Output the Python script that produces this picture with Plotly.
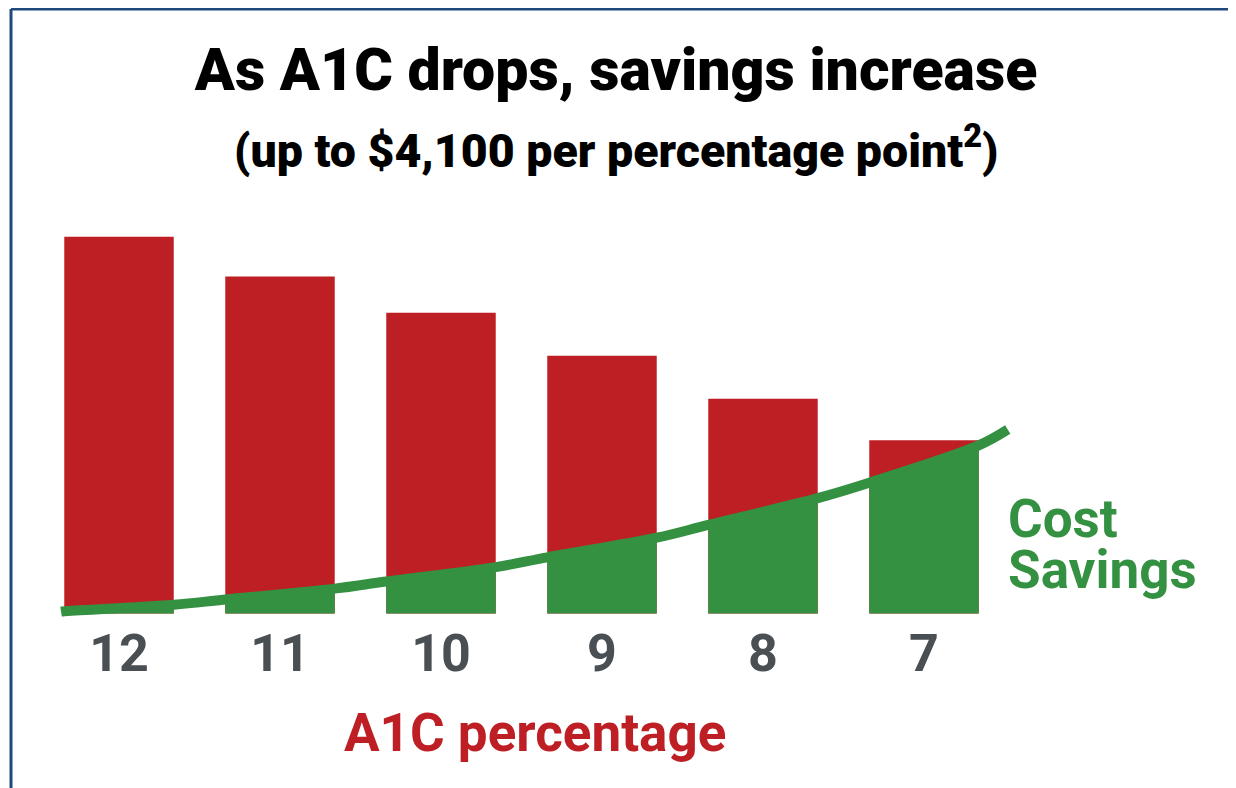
import numpy as np
import plotly.graph_objects as go

# ---- data ----
a1c_values = [12, 11, 10, 9, 8, 7]
tick_labels = ["12", "11", "10", "9", "8", "7"]
total_cost_index = [100, 89.4, 79.8, 68.4, 57.0, 46.0]          # bar heights (relative cost, A1C 12 = 100)
curve_a1c = [12.36, 12.34, 11.66, 11.34, 10.66, 10.34, 9.66, 9.34, 8.66, 8.34, 7.66, 7.34, 6.66, 6.48]
curve_savings = [0.5, 0.6, 2.3, 3.7, 6.6, 8.5, 12.3, 14.9, 20.1, 23.5, 30.6, 34.7, 44.6, 48.8]

title_text = "As A1C drops, savings increase"
subtitle_text = "(up to $4,100 per percentage point<sup>2</sup>)"
axis_title = "A1C percentage"
curve_label = ["Cost", "Savings"]

RED = "#BE1F24"
GREEN = "#359142"
GRAY = "#4A4F54"
BORDER = "#1E4A7B"
BAR_W = 0.68

# page has an 8px body margin: figure is 1228x780 and starts at page (8, 8)
W, H = 1228, 780
ML, MR, MT, MB = 0, 166, 191, 167
PW, PH = W - ML - MR, H - MT - MB


def py(page_y):  # page pixel y -> paper y
    return (H - MB - (page_y - 8)) / PH


def px(page_x):  # page pixel x -> paper x
    return (page_x - 8 - ML) / PW


fig = go.Figure()
fig.add_trace(go.Bar(x=a1c_values, y=total_cost_index, width=BAR_W,
                     marker=dict(color=RED, line=dict(width=0)), hoverinfo="skip"))

# green (savings) portion of each bar, under the curve
cx = np.array(curve_a1c[::-1])
cy = np.array(curve_savings[::-1])
for c in a1c_values:
    lo, hi = c - BAR_W / 2, c + BAR_W / 2
    inner = [(x, y) for x, y in zip(cx, cy) if lo < x < hi]
    xs = [hi] + [p[0] for p in inner[::-1]] + [lo]
    ys = list(np.interp(xs, cx, cy))
    fig.add_trace(go.Scatter(x=[hi] + xs + [lo, hi], y=[0] + ys + [0, 0],
                             mode="lines", fill="toself", fillcolor=GREEN,
                             line=dict(width=0, color=GREEN), hoverinfo="skip"))

fig.add_trace(go.Scatter(x=curve_a1c, y=curve_savings, mode="lines",
                         line=dict(color=GREEN, width=10, shape="spline"), hoverinfo="skip"))

fig.update_layout(
    width=W, height=H,
    margin=dict(l=ML, r=MR, t=MT, b=MB, pad=0),
    paper_bgcolor="white", plot_bgcolor="white",
    showlegend=False,
    title=dict(text=title_text, x=(616 - 8) / W, xref="container", xanchor="center",
               y=1 - (69 - 8) / H, yref="container", yanchor="middle",
               font=dict(family="Roboto", size=59, color="black", weight=900)),
    xaxis=dict(range=[12 + (119 - 8) / 161, 12 - (1070 - 119) / 161], tickvals=a1c_values, ticktext=tick_labels,
               showgrid=False, zeroline=False, showline=False, ticks="", ticklabelstandoff=-3,
               tickfont=dict(family="Roboto", size=52, color=GRAY, weight="bold")),
    yaxis=dict(range=[-2, 110], visible=False, showgrid=False, zeroline=False),
)

fig.add_annotation(text=subtitle_text, xref="paper", yref="paper", x=px(616), y=py(147),
                   xanchor="center", yanchor="middle", showarrow=False,
                   font=dict(family="Roboto", size=46.5, color="black", weight=900))
fig.add_annotation(text=axis_title, xref="paper", yref="paper", x=px(535), y=py(733),
                   xanchor="center", yanchor="middle", showarrow=False,
                   font=dict(family="Roboto", size=53, color=RED, weight="bold"))
for t, yy in zip(curve_label, [519, 570]):
    fig.add_annotation(text=t, xref="paper", yref="paper", x=px(1006), y=py(yy),
                       xanchor="left", yanchor="middle", showarrow=False,
                       font=dict(family="Roboto", size=53, color=GREEN, weight="bold"))

# frame lines (top and left)
fig.add_shape(type="line", xref="paper", yref="paper", x0=px(11), x1=1.3, y0=py(9), y1=py(9),
              line=dict(color=BORDER, width=3))
fig.add_shape(type="line", xref="paper", yref="paper", x0=px(11), x1=px(11), y0=py(9), y1=-0.5,
              line=dict(color=BORDER, width=3))

fig.write_html("out.html")
